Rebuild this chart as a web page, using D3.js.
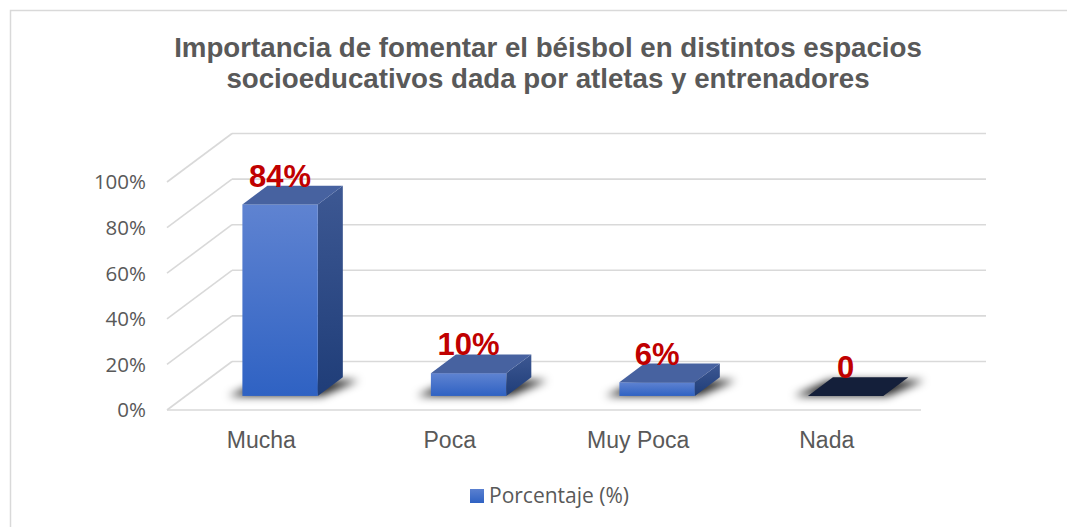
<!DOCTYPE html>
<html>
<head>
<meta charset="utf-8">
<script src="https://cdn.jsdelivr.net/npm/d3@7"></script>
<style>
  html, body { margin:0; padding:0; background:#fff; }
  svg { display:block; }
</style>
</head>
<body>
<div id="chart"></div>
<script>
// 3D-look column chart

const categories = ['Mucha', 'Poca', 'Muy Poca', 'Nada'];
const values = [84, 10, 6, 0];
const valueLabels = ['84%', '10%', '6%', '0'];
const yTicks = [0, 20, 40, 60, 80, 100];
const titleLines = ['Importancia de fomentar el béisbol en distintos espacios', 'socioeducativos dada por atletas y entrenadores'];
const seriesName = 'Porcentaje (%)';

const W = 1067, H = 527;
const svg = d3.select('#chart').append('svg').attr('width', W).attr('height', H);
const defs = svg.append('defs');

// gradients
function vGrad(id, c0, c1){
  const g = defs.append('linearGradient').attr('id', id).attr('x1',0).attr('y1',0).attr('x2',0).attr('y2',1);
  g.append('stop').attr('offset','0%').attr('stop-color', c0);
  g.append('stop').attr('offset','100%').attr('stop-color', c1);
}
vGrad('front', '#5f83d1', '#2f62c3');
vGrad('side', '#3d5893', '#1f3d78');
vGrad('legendSq', '#5a80d0', '#2f62c3');
defs.append('filter').attr('id','blur').attr('x','-50%').attr('y','-100%').attr('width','200%').attr('height','300%')
  .append('feGaussianBlur').attr('stdDeviation', 4);

// border
svg.append('rect').attr('x', 10.5).attr('y', 10.5).attr('width', W).attr('height', H)
  .attr('fill', 'none').attr('stroke', '#d9d9d9').attr('stroke-width', 1.5);

// title
svg.append('text').attr('text-anchor','middle')
  .style('font-family','"Liberation Sans", Arial, sans-serif').style('font-weight','bold')
  .style('font-size','27.7px').attr('fill','#595959')
  .selectAll('tspan').data(titleLines).join('tspan')
  .attr('x', 548).attr('y', (d,i) => 57 + i*30.5).text(d => d);

// scales (front plane of the floor)
const x = d3.scaleBand().domain(categories).range([167, 921]).paddingInner(0.6).paddingOuter(0.3);
const xLab = d3.scaleBand().domain(categories).range([167, 921]);
const y = d3.scaleLinear().domain([0, 100]).range([410, 182]);

// depth of the box and of the bars
const depth = { dx: 65, dy: -48.5 };
const barFront = 0.29, barBack = 0.675;
const off = f => [depth.dx*f, depth.dy*f];

const grid = svg.append('g').attr('stroke', '#d9d9d9').attr('stroke-width', 1.6).attr('fill','none');
// back wall lines
grid.selectAll('line.back').data(yTicks).join('line').attr('class','back')
  .attr('x1', 167 + depth.dx).attr('x2', 921 + depth.dx)
  .attr('y1', d => y(d) + depth.dy).attr('y2', d => y(d) + depth.dy);
// side wall lines
grid.selectAll('line.side').data(yTicks).join('line').attr('class','side')
  .attr('x1', 167).attr('x2', 167 + depth.dx)
  .attr('y1', d => y(d)).attr('y2', d => y(d) + depth.dy);
// floor front edge
grid.append('line').attr('x1', 167).attr('x2', 921).attr('y1', y(0)).attr('y2', y(0));

// y tick labels
svg.append('g').selectAll('text').data(yTicks).join('text')
  .attr('x', 146).attr('y', d => y(d)).attr('dy', '0.36em').attr('text-anchor','end')
  .style('font-family','"Open Sans", sans-serif').style('font-size','20.5px').attr('fill','#595959')
  .text(d => d + '%');

// category labels
svg.append('g').selectAll('text').data(categories).join('text')
  .attr('x', d => xLab(d) + xLab.bandwidth()/2).attr('y', 448).attr('text-anchor','middle')
  .style('font-family','"Liberation Sans", Arial, sans-serif').style('font-size','23px').attr('fill','#595959')
  .text(d => d);

const bars = categories.map((c, i) => {
  const [fx, fy] = off(barFront), [bx, by] = off(barBack);
  const x0 = x(c) + fx, x1 = x(c) + x.bandwidth() + fx;
  const yb = y(0) + fy, yt = y(values[i]) + fy;
  const ddx = bx - fx, ddy = by - fy;
  return { c, v: values[i], label: valueLabels[i], x0, x1, yb, yt, ddx, ddy };
});

// shadows on the floor
svg.append('g').attr('filter','url(#blur)').selectAll('polygon').data(bars).join('polygon')
  .attr('points', b => [[b.x0-14, b.yb], [b.x1+4, b.yb], [b.x1+b.ddx+16, b.yb+b.ddy+3], [b.x0+b.ddx-4, b.yb+b.ddy+3]].join(' '))
  .attr('fill', '#000').attr('opacity', 0.85);

const bg = svg.append('g').selectAll('g').data(bars).join('g');
// side face
bg.filter(b => b.v > 0).append('polygon')
  .attr('points', b => [[b.x1, b.yt], [b.x1+b.ddx, b.yt+b.ddy], [b.x1+b.ddx, b.yb+b.ddy], [b.x1, b.yb]].join(' '))
  .attr('fill', 'url(#side)');
// front face
bg.filter(b => b.v > 0).append('rect')
  .attr('x', b => b.x0).attr('y', b => b.yt).attr('width', b => b.x1 - b.x0).attr('height', b => b.yb - b.yt)
  .attr('fill', 'url(#front)');
// top face
bg.append('polygon')
  .attr('points', b => [[b.x0, b.yt], [b.x1, b.yt], [b.x1+b.ddx, b.yt+b.ddy], [b.x0+b.ddx, b.yt+b.ddy]].join(' '))
  .attr('fill', b => b.v > 0 ? '#4762a0' : '#141f3a');

// value labels
svg.append('g').selectAll('text').data(bars).join('text')
  .attr('x', b => (b.x0 + b.x1)/2).attr('y', b => b.yt + b.ddy + 1).attr('text-anchor','middle')
  .style('font-family','"Liberation Sans", Arial, sans-serif').style('font-weight','bold').style('font-size','31px')
  .attr('fill','#c00000').text(b => b.label);

// legend
const lg = svg.append('g');
lg.append('rect').attr('x', 470).attr('y', 489).attr('width', 14).attr('height', 14).attr('fill','url(#legendSq)');
lg.append('text').attr('x', 489).attr('y', 503)
  .style('font-family','"Open Sans", sans-serif').style('font-size','21px').attr('fill','#595959')
  .text(seriesName);
</script>
</body>
</html>
